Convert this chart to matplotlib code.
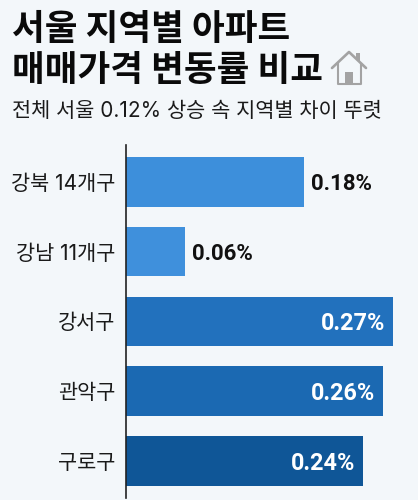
import matplotlib
matplotlib.use('Agg')
import matplotlib.pyplot as plt
from matplotlib.patches import Polygon, Rectangle

plt.rcParams['font.family'] = ['Noto Sans CJK KR', 'DejaVu Sans']
NUM_FONT = ['Inter', 'Noto Sans CJK KR']

districts = ['강북 14개구', '강남 11개구', '강서구', '관악구', '구로구']
changes = [0.18, 0.06, 0.27, 0.26, 0.24]
value_labels = ['0.18%', '0.06%', '0.27%', '0.26%', '0.24%']
bar_colors = ['#3d8fdb', '#3f90dc', '#2271bd', '#1b69b2', '#0f5697']

W, H = 418, 500
BG = '#f3f7fa'

fig = plt.figure(figsize=(W / 100, H / 100), dpi=100, facecolor=BG)


def fx(px):
    return px / W


def fy(py):
    return 1 - py / H


# Titel und Untertitel
fig.text(fx(12), fy(40), '서울 지역별 아파트', fontsize=25.6, fontweight=900, color='#0a0a0a', va='baseline')
fig.text(fx(12), fy(81), '매매가격 변동률 비교', fontsize=25.6, fontweight=900, color='#0a0a0a', va='baseline')
fig.text(fx(12), fy(117), '전체 서울 0.12% 상승 속 지역별 차이 뚜렷', fontsize=15, color='#1a1a1a', va='baseline', family=NUM_FONT)

# Haus-Symbol
house = '#a3a3a3'
fig.add_artist(plt.Line2D([fx(332), fx(349), fx(366)], [fy(68), fy(52), fy(68)], color=house, lw=1.9, solid_capstyle='round'))
fig.add_artist(plt.Line2D([fx(338), fx(338), fx(361), fx(361)], [fy(64), fy(84), fy(84), fy(64)], color=house, lw=1.5))
fig.add_artist(Polygon([[fx(356), fy(53)], [fx(360), fy(53)], [fx(360), fy(62)], [fx(356), fy(58)]], transform=fig.transFigure, color=house, lw=0))
fig.add_artist(Rectangle((fx(345), fy(84)), 8 / W, 12 / H, transform=fig.transFigure, color=house, lw=0))

# Balken
ax = fig.add_axes([fx(125.5), fy(498), (W - 125.5) / W, (498 - 145) / H])
ax.set_facecolor('none')
y = list(range(len(districts)))
ax.barh(y, changes, height=0.71, color=bar_colors)
ax.set_xlim(0, (W - 125.5) / 990.7)
ax.set_ylim((498 - 182) / 69.7, (145 - 182) / 69.7)

ax.set_yticks(y)
ax.set_yticklabels(districts, fontsize=15, color='#1a1a1a', family=NUM_FONT)
ax.tick_params(axis='y', length=0, pad=7)
ax.set_xticks([])
for s in ['top', 'right', 'bottom']:
    ax.spines[s].set_visible(False)
ax.spines['left'].set_color('#222222')
ax.spines['left'].set_linewidth(1.2)

for i, (v, lab) in enumerate(zip(changes, value_labels)):
    if v < 0.2:
        ax.annotate(lab, (v, i), xytext=(7, 0), textcoords='offset pixels', ha='left', va='center_baseline',
                    fontsize=16, fontweight='bold', color='#111111', family='Roboto')
    else:
        ax.annotate(lab, (v, i), xytext=(-8, 0), textcoords='offset pixels', ha='right', va='center_baseline',
                    fontsize=16.8, fontweight='bold', color='white', family='Roboto')

fig.savefig('out.png', dpi=100, facecolor=BG)
